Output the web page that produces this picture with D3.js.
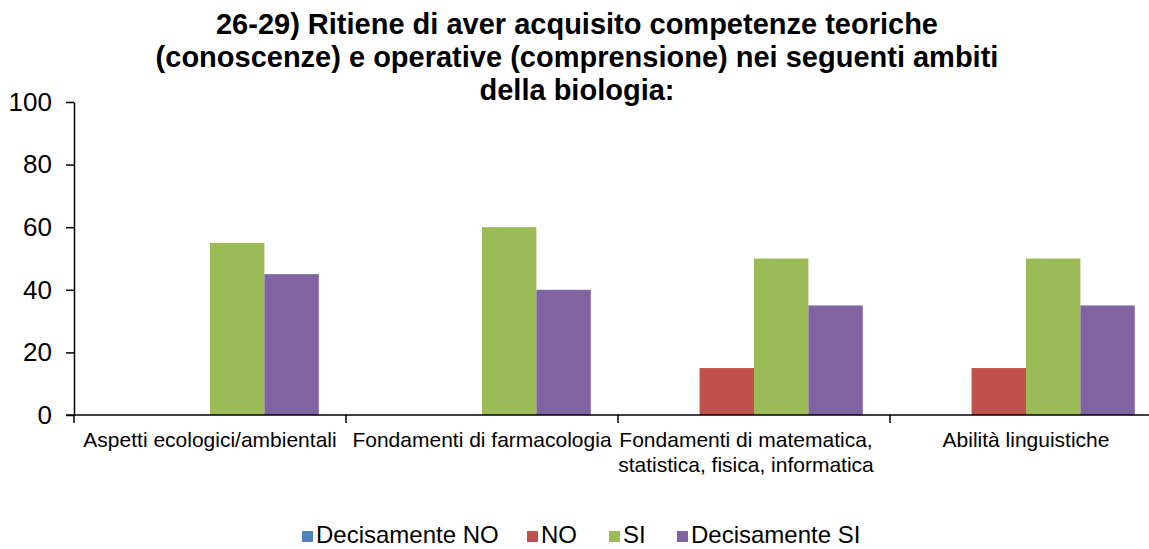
<!DOCTYPE html>
<html lang="it">
<head>
<meta charset="UTF-8" />
<script src="https://d3js.org/d3.v7.min.js"></script>
<style>
  body { margin: 0; background: #fff; }
  svg { display: block; font-family: "Liberation Sans", Arial, sans-serif; }
</style>
</head>
<body>
<svg id="chart" width="1149" height="549"></svg>
<script>
const categories = [
  ["Aspetti ecologici/ambientali"],
  ["Fondamenti di farmacologia"],
  ["Fondamenti di matematica,", "statistica, fisica, informatica"],
  ["Abilità linguistiche"]
];
const seriesNames = ["Decisamente NO", "NO", "SI", "Decisamente SI"];
const seriesColors = ["#4F81BD", "#C0504D", "#9BBB59", "#8064A2"];
const decisamenteNo = [0, 0, 0, 0];
const no = [0, 0, 15, 15];
const si = [55, 60, 50, 50];
const decisamenteSi = [45, 40, 35, 35];
const yTicks = [0, 20, 40, 60, 80, 100];
const titleLines = [
  "26-29) Ritiene di aver acquisito competenze teoriche",
  "(conoscenze) e operative (comprensione) nei seguenti ambiti",
  "della biologia:"
];

const seriesValues = [decisamenteNo, no, si, decisamenteSi];
const svg = d3.select("#chart");
const plotLeft = 74, plotRight = 1162, plotTop = 102, plotBottom = 415;

const x0 = d3.scaleBand().domain(d3.range(categories.length)).range([plotLeft, plotRight]);
const bw = x0.bandwidth();
const x1 = d3.scaleBand().domain(d3.range(seriesNames.length)).range([bw * 0.1, bw * 0.9]);
const y = d3.scaleLinear().domain([0, 100]).range([plotBottom, plotTop]);

// title
svg.append("g").selectAll("text").data(titleLines).join("text")
  .attr("x", 577).attr("y", (d, i) => 34 + i * 33)
  .attr("text-anchor", "middle")
  .attr("font-size", 29).attr("font-weight", "bold")
  .text(d => d);

// bars
const groups = svg.append("g").selectAll("g").data(categories).join("g")
  .attr("transform", (d, i) => `translate(${x0(i)},0)`);
groups.selectAll("rect")
  .data((d, i) => seriesValues.map((s, k) => ({ k, v: s[i] })))
  .join("rect")
  .attr("x", d => x1(d.k))
  .attr("width", x1.bandwidth())
  .attr("y", d => y(d.v))
  .attr("height", d => y(0) - y(d.v))
  .attr("fill", d => seriesColors[d.k]);

// y axis
const yAxis = svg.append("g").attr("transform", `translate(${plotLeft},0)`)
  .call(d3.axisLeft(y).tickValues(yTicks).tickSize(8).tickPadding(14).tickSizeOuter(0));
yAxis.select(".domain").attr("stroke", "#000").attr("stroke-width", 1.5);
yAxis.selectAll(".tick line").attr("stroke", "#000").attr("stroke-width", 1.5);
yAxis.selectAll(".tick text").attr("font-size", 26).attr("fill", "#000")
  .attr("font-family", "Liberation Sans, Arial, sans-serif");

// x axis
const xAxis = svg.append("g").attr("transform", `translate(0,${plotBottom})`);
xAxis.append("line").attr("x1", plotLeft - 8).attr("x2", plotRight).attr("stroke", "#000").attr("stroke-width", 1.5);
xAxis.selectAll(".xt").data(d3.range(categories.length + 1)).join("line")
  .attr("x1", i => plotLeft + i * bw).attr("x2", i => plotLeft + i * bw)
  .attr("y1", 0).attr("y2", 8).attr("stroke", "#000").attr("stroke-width", 1.5);
xAxis.selectAll(".xl").data(categories).join("text")
  .attr("text-anchor", "middle").attr("font-size", 21)
  .attr("transform", (d, i) => `translate(${x0(i) + bw / 2 - (d.length > 1 ? 8 : 0)},0)`)
  .selectAll("tspan").data(d => d).join("tspan")
  .attr("x", 0).attr("y", (d, j) => 32 + j * 25)
  .text(d => d);

// legend
const legendX = [302, 527, 609, 677];
const legend = svg.append("g").selectAll("g").data(seriesNames).join("g")
  .attr("transform", (d, i) => `translate(${legendX[i]},543)`);
legend.append("rect").attr("x", 0).attr("y", -12).attr("width", 11).attr("height", 11)
  .attr("fill", (d, i) => seriesColors[i]);
legend.append("text").attr("x", 14).attr("y", 0).attr("font-size", 24).text(d => d);
</script>
</body>
</html>
